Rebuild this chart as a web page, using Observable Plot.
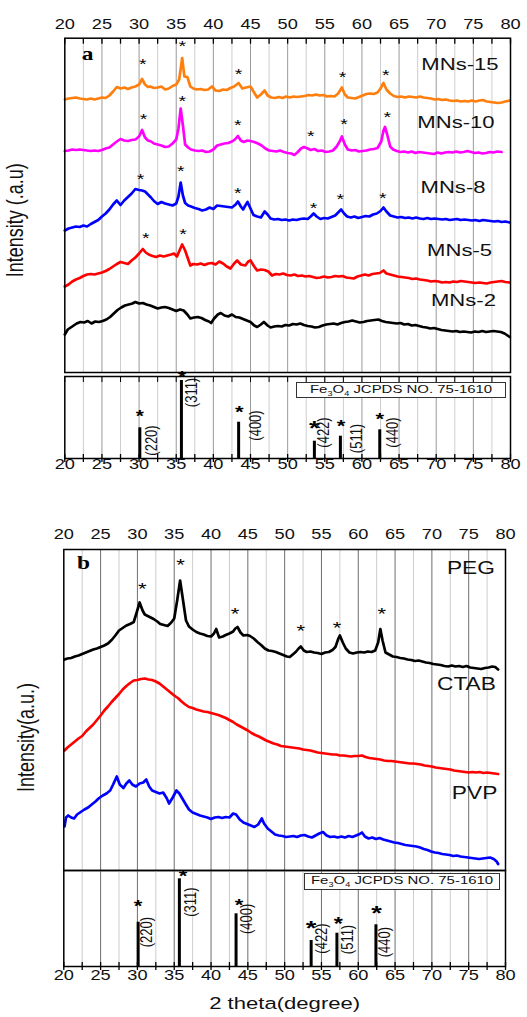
<!DOCTYPE html>
<html><head><meta charset="utf-8">
<script src="https://cdn.jsdelivr.net/npm/d3@7"></script>
<script src="https://cdn.jsdelivr.net/npm/@observablehq/plot@0.6"></script>
<style>
body{margin:0;background:#fff;}
#fig{position:relative;width:527px;height:1017px;overflow:hidden;font-family:"Liberation Sans",Arial,sans-serif;background:#fff;}
#fig svg{position:absolute;left:0;overflow:visible;}
.legend{position:absolute;box-sizing:border-box;border:1px solid #333;background:#fff;font-size:11.5px;display:flex;align-items:center;justify-content:center;white-space:nowrap;color:#111;}
.legend span{display:inline-block;transform:scaleX(1.3);}
.legend sub{font-size:7px;}
</style></head><body><div id="fig"></div>
<script>
// ---------- axis ticks ----------
const majorTicks = [20, 25, 30, 35, 40, 45, 50, 55, 60, 65, 70, 75, 80];
const minorTicks = [22.5, 27.5, 32.5, 37.5, 42.5, 47.5, 52.5, 57.5, 62.5, 67.5, 72.5, 77.5];
const allTicks = [20, 22.5, 25, 27.5, 30, 32.5, 35, 37.5, 40, 42.5, 45, 47.5, 50, 52.5, 55, 57.5, 60, 62.5, 65, 67.5, 70, 72.5, 75, 77.5, 80];

// ---------- panel a: [2theta, intensity (a.u., stacked)] ----------
const mns15 = [[20,276],[20.5,277],[21,277.5],[21.5,278],[22,277],[22.5,276.5],[23,276],[23.5,277],[24,276],[24.5,277],[25,278],[25.5,277.5],[26,280],[26.5,284],[27,288.5],[27.5,287],[28,288],[28.5,286.5],[29,288],[29.5,289],[30,291],[30.4,296.5],[30.8,291],[31.2,288.5],[31.5,289],[32,287.5],[32.5,288],[33,289],[33.5,286],[34,287],[34.5,289.5],[35,291],[35.4,296],[35.8,317.5],[36.1,299],[36.5,298.5],[36.9,289],[37.3,287],[37.8,286],[38.3,286.5],[38.8,285.5],[39.3,286],[39.8,289],[40.3,285],[40.8,284.5],[41.3,286],[41.8,285.5],[42.3,287.5],[42.8,289],[43.4,292.5],[43.9,287],[44.4,288],[45,289],[45.4,284],[45.9,278],[46.4,281],[46.9,285],[47.3,280],[47.8,278],[48.3,277.5],[48.8,278.5],[49.3,277.5],[49.8,279],[50.3,278],[50.8,279],[51.3,278.5],[51.8,279],[52.3,279.5],[52.8,280.5],[53.3,280],[53.8,281],[54.3,280],[54.8,280.5],[55.3,279],[55.8,279.5],[56.3,279],[56.8,282],[57.3,288],[57.7,281],[58.1,278],[58.6,277.5],[59.1,277],[59.6,278.5],[60.1,280],[60.6,281.5],[61.1,282],[61.6,281.5],[62.1,283],[62.5,287],[62.9,292.5],[63.3,286],[63.8,282],[64.3,279.5],[64.8,278.5],[65.3,279],[65.8,278],[66.3,279],[66.8,278.5],[67.3,278],[67.8,279],[68.3,278],[68.8,277.5],[69.3,277],[69.8,276],[70.3,276.5],[70.8,275.5],[71.3,276],[71.8,275],[72.3,274.5],[72.8,275],[73.3,274],[73.8,274.5],[74.3,274],[74.8,275],[75.3,274],[75.8,275],[76.3,275.5],[76.8,274],[77.3,273.5],[77.8,273],[78.3,272.5],[78.8,273],[79.3,274],[79.9,275]];
const mns10 = [[20,224.5],[20.5,225],[21,226],[21.5,225.5],[22,226],[22.5,225.5],[23,225],[23.5,224.5],[24,225],[24.5,224.5],[25,225.5],[25.5,227],[26,228],[26.5,231],[27,234],[27.5,236.5],[28,235],[28.5,234.5],[29,235.5],[29.5,236],[30,239],[30.4,245.5],[30.8,238],[31.2,235],[31.6,234],[32,232],[32.5,231],[33,230],[33.5,228.5],[34,229],[34.5,232],[35,236],[35.3,247],[35.6,267],[35.9,250],[36.2,231],[36.6,228],[37,226],[37.5,225],[38,224.5],[38.5,225],[39,223.5],[39.5,224],[40,226],[40.5,230],[41,231],[41.5,232],[42,232.5],[42.5,234],[42.9,236],[43.3,239.5],[43.7,235],[44.1,233.5],[44.6,235],[45,234.5],[45.5,233.5],[46,232],[46.5,230],[47,227],[47.5,225],[48,224.5],[48.5,224],[49,225],[49.5,223.5],[50,222.5],[50.5,222],[50.9,220.5],[51.3,223],[51.8,227],[52.2,228.5],[52.7,227],[53.1,225.5],[53.6,226.5],[54.1,224.5],[54.6,225],[55.1,223.5],[55.6,224],[56.1,225],[56.6,229],[57,234],[57.3,239],[57.7,231],[58.1,226],[58.6,225],[59.1,225.5],[59.6,224],[60.1,224.5],[60.6,225],[61.1,226],[61.6,226.5],[62.1,227.5],[62.6,234],[62.9,245],[63.1,248.5],[63.4,241],[63.8,229],[64.2,226],[64.7,224.5],[65.2,223.5],[65.7,224],[66.2,223],[66.7,224],[67.2,222.5],[67.7,223.5],[68.2,223],[68.7,222.5],[69.2,222],[69.7,221.5],[70.2,223],[70.7,222],[71.2,223],[71.7,223.5],[72.2,223],[72.7,224],[73.2,223],[73.7,223.5],[74.2,224.5],[74.7,223.5],[75.2,222.5],[75.7,223],[76.2,222],[76.7,222.5],[77.2,223.5],[77.7,223],[78.2,224],[78.8,223.5]];
const mns8 = [[20,145],[20.5,147],[21,148],[21.5,149],[22,148.5],[22.5,150],[23,149],[23.5,151.5],[24,153.5],[24.5,155.5],[25,159],[25.5,162],[26,166],[26.5,171],[27,175],[27.5,170.5],[28,175],[28.5,178.5],[29,182],[29.5,186.5],[30,185.5],[30.4,185],[30.8,184],[31.2,181],[31.6,178],[32,174.5],[32.5,171.5],[33,173.5],[33.5,172],[34,171],[34.5,170],[35,172],[35.3,179],[35.6,193],[35.9,180],[36.2,172.5],[36.6,170],[37,169],[37.5,167.5],[38,166.5],[38.5,165],[39,166],[39.5,168],[40,166.5],[40.5,170],[41,169.5],[41.5,169],[42,168.5],[42.5,168],[43,171],[43.3,174],[43.7,169],[44,166],[44.3,170],[44.6,173.5],[45,167],[45.4,160.5],[45.9,159],[46.4,158],[46.9,164],[47.3,161],[47.7,157],[48.2,156],[48.7,156.5],[49.2,155.5],[49.7,156],[50.2,155],[50.7,156],[51.2,155.5],[51.7,156.5],[52.2,157],[52.7,156.5],[53.1,159],[53.5,162],[53.9,159],[54.4,156.5],[54.9,157.5],[55.4,157],[55.9,158.5],[56.4,160],[56.8,163],[57.2,166],[57.6,162],[58,159],[58.5,158],[59,159],[59.5,157.5],[60,158.5],[60.5,159.5],[61,159],[61.5,161],[62,162],[62.5,164.5],[62.9,168],[63.3,164],[63.8,160],[64.3,159],[64.8,158],[65.3,158.5],[65.8,157.5],[66.3,158],[66.8,157],[67.3,158],[67.8,157],[68.3,156.5],[68.8,157.5],[69.3,156.5],[69.8,157],[70.3,156.5],[70.8,156],[71.3,156.5],[71.8,155.5],[72.3,156],[72.8,156.5],[73.3,155.5],[73.8,156],[74.3,155.5],[74.8,155],[75.3,155.5],[75.8,154.5],[76.3,155.5],[76.8,155],[77.3,154.5],[77.8,154],[78.3,154.5],[78.8,153.5],[79.3,154],[79.9,153]];
const mns5 = [[20,89],[20.5,91],[21,94],[21.5,96],[22,97.5],[22.5,99.5],[23,101],[23.5,101.5],[24,101],[24.5,102],[25,103],[25.5,104.5],[26,106.5],[26.5,109],[27,111.5],[27.5,113.5],[28,112.5],[28.5,111.5],[29,115],[29.5,118],[30,122],[30.5,126.5],[30.9,123],[31.3,121],[31.8,119.5],[32.3,118.5],[32.8,120],[33.3,119],[33.8,120],[34.3,121],[34.7,122],[35.1,119],[35.5,126],[35.8,131],[36.2,125],[36.5,118.5],[36.9,110],[37.3,111.5],[37.8,111],[38.3,112],[38.8,110.5],[39.3,112],[39.8,112.5],[40.3,111],[40.8,114],[41.3,112],[41.8,109],[42.3,107],[42.8,112],[43.2,115],[43.7,111],[44.3,110],[44.7,114],[45,115],[45.5,109],[45.9,105],[46.4,106],[46.9,105.5],[47.4,104],[47.9,100],[48.4,101.5],[48.9,101],[49.4,102],[49.9,100.5],[50.4,100],[50.9,101],[51.4,99.5],[51.9,100],[52.4,99],[52.9,99.5],[53.4,98.5],[53.9,97.5],[54.4,98],[54.9,99],[55.4,98],[55.9,98.5],[56.4,99.5],[56.9,99],[57.4,99.5],[57.9,98],[58.4,97.5],[58.9,97],[59.4,99],[59.9,100],[60.4,101],[60.9,100],[61.4,101.5],[61.9,102],[62.4,102.5],[62.9,105],[63.3,102],[63.8,101],[64.3,100],[64.8,99],[65.3,98.5],[65.8,98],[66.3,97.5],[66.8,96.5],[67.3,97],[67.8,96],[68.3,95.5],[68.8,95],[69.3,94],[69.8,94.5],[70.3,94],[70.8,93],[71.3,93.5],[71.8,93],[72.3,94],[72.8,93.5],[73.3,94.5],[73.8,94],[74.3,93.5],[74.8,93],[75.3,92.5],[75.8,93],[76.3,92.5],[76.8,92],[77.3,93],[77.8,93.5],[78.3,94],[78.8,94.5],[79.3,93.5],[79.9,93]];
const mns2 = [[20,41],[20.4,46],[20.8,48],[21.2,50],[21.6,52],[22.1,53.5],[22.6,53],[23.1,54.5],[23.6,52],[24.1,54],[24.6,53.5],[25.1,54.5],[25.6,56],[26.1,58.5],[26.6,62],[27.1,65.5],[27.6,68],[28.1,70],[28.6,71],[29.1,72],[29.5,73.5],[30,72],[30.5,72.5],[31,71],[31.5,70],[32,68.5],[32.5,67],[33,68],[33.5,68.5],[34,67.5],[34.5,66],[35,64.5],[35.5,66],[36,65],[36.5,61],[36.9,57],[37.4,58],[37.9,58.5],[38.4,57.5],[38.9,55.5],[39.4,54],[39.7,52.5],[40.1,57],[40.6,61],[41,62.5],[41.5,60],[42,59],[42.5,61],[43,58.5],[43.5,58],[44,56.5],[44.5,55],[45,53.5],[45.5,50],[45.9,48.5],[46.4,51],[46.8,53.5],[47.3,50],[47.7,48],[48.2,49],[48.7,49.5],[49.2,49],[49.7,50.5],[50.2,50],[50.7,51.5],[51.2,51],[51.7,52],[52.2,50.5],[52.7,49.5],[53.2,49],[53.7,48],[54.2,48.5],[54.7,50],[55.2,51],[55.7,51.5],[56.2,52],[56.7,51],[57.2,52.5],[57.7,53.5],[58.2,54],[58.7,55],[59.2,54],[59.7,53],[60.2,53.5],[60.7,54.5],[61.2,55],[61.7,55.5],[62.2,56],[62.7,54.5],[63.2,53.5],[63.7,53],[64.2,52.5],[64.7,52],[65.2,52.5],[65.7,51],[66.2,51.5],[66.7,50],[67.2,50.5],[67.7,49.5],[68.2,48.5],[68.7,48],[69.2,47],[69.7,47.5],[70.2,46.5],[70.7,45.5],[71.2,45],[71.7,44.5],[72.2,44],[72.7,44.5],[73.2,43.5],[73.7,44],[74.2,43.5],[74.7,43],[75.2,44],[75.7,43.5],[76.2,44.5],[76.7,43.5],[77.2,44],[77.7,44.5],[78.2,44],[78.7,43.5],[79.2,42],[79.6,40],[79.9,38.5]];
const seriesA = [
  {name: "MNs-15", color: "#ff7f0e", data: mns15},
  {name: "MNs-10", color: "#ff00ff", data: mns10},
  {name: "MNs-8", color: "#0000ff", data: mns8},
  {name: "MNs-5", color: "#ff0000", data: mns5},
  {name: "MNs-2", color: "#000000", data: mns2}
];
const labelsA = [["MNs-15", 73.2, 305.3], ["MNs-10", 72.66, 247.5], ["MNs-8", 72.26, 182.5], ["MNs-5", 73.14, 120], ["MNs-2", 73.67, 69.7]];
const starsA = [[30.5,310],[35.8,328],[43.4,300],[57.4,297],[63.2,299],
  [30.6,255],[35.8,273.3],[43.3,249],[53.1,238.3],[57.6,250],[63.4,257],
  [30.2,195],[35.6,203.3],[43.3,181.7],[53.5,166.7],[57.1,175.7],[62.8,176.7],
  [30.9,136.7],[35.9,140]];

// ---------- panel b ----------
const peg = [[20.1,211],[20.5,212],[21,212.5],[21.5,214],[22,215],[22.5,216.5],[23,218],[23.5,219.5],[24,221],[24.5,222],[25,223.5],[25.5,225],[26,227],[26.5,230.5],[27,235],[27.5,240],[28,242.5],[28.5,245],[29,246.5],[29.5,248.5],[29.9,258],[30.3,268],[30.7,260],[31,256],[31.4,254.5],[31.8,253],[32.2,251.5],[32.7,249],[33.1,246.5],[33.6,245.5],[34.1,244.5],[34.6,248],[35,252],[35.4,270],[35.8,290],[36.2,270],[36.6,250],[37,244],[37.5,241],[38,238.5],[38.5,237],[39,236],[39.5,234.5],[40,234],[40.4,237],[40.7,241.5],[41.1,233],[41.6,234],[42,235.5],[42.5,237],[43,239],[43.3,242],[43.6,243.5],[44,238],[44.4,235],[44.9,235.5],[45.3,234.5],[45.8,232],[46.3,228.5],[46.8,225.5],[47.3,222],[47.8,220],[48.3,219.5],[48.8,218.5],[49.3,217],[49.8,215.5],[50.3,214],[50.7,213.5],[51.1,216],[51.5,218.5],[51.9,222],[52.2,224],[52.6,220],[53,218.5],[53.5,219],[54,218],[54.5,217.5],[55,216.5],[55.5,218],[56,218.5],[56.5,220.5],[56.9,223.5],[57.3,232],[57.5,235],[57.9,228],[58.3,222],[58.8,218],[59.3,217],[59.8,218],[60.3,218.5],[60.8,218],[61.3,219],[61.8,218.5],[62.3,220],[62.7,228],[63,241.5],[63.3,230],[63.7,218],[64.2,216],[64.7,214],[65.2,213.5],[65.7,212.5],[66.2,212],[66.7,211],[67.2,210.5],[67.7,209.5],[68.2,210],[68.7,209],[69.2,208],[69.7,207.5],[70.2,206.5],[70.7,206],[71.2,205.5],[71.7,204.5],[72.2,204],[72.7,205],[73.2,204],[73.7,204.5],[74.2,203.5],[74.7,204.5],[75.2,203],[75.7,202.5],[76.2,202],[76.7,201.5],[77.2,202.5],[77.7,203],[78.2,204],[78.6,203.5],[79,201]];
const ctab = [[20.1,120],[20.5,123],[21,126],[21.5,129],[22,132],[22.5,134.5],[23,139],[23.5,142.5],[24,146],[24.5,150.5],[25,155],[25.5,160],[26,164],[26.5,168.5],[27,172.5],[27.5,176.5],[28,181],[28.5,184.5],[29,187.5],[29.5,190],[30,190.5],[30.5,191.5],[31,192],[31.5,191],[32,190.5],[32.5,189],[33,187],[33.5,184],[34,181],[34.5,178],[35,175],[35.5,172.5],[36,169],[36.5,166],[37,163.5],[37.5,162.5],[38,161],[38.5,160],[39,159],[39.5,158.5],[40,157.5],[40.5,156.5],[41,155.5],[41.5,154],[42,152.5],[42.5,150.5],[43,148.5],[43.5,146],[44,144],[44.5,142],[45,140],[45.5,137.5],[46,135.5],[46.5,134],[47,132],[47.5,130],[48,128.5],[48.5,127],[49,126],[49.5,124.5],[50,124],[50.5,123.5],[51,123],[51.5,122.5],[52,122],[52.5,121],[53,120.5],[53.5,120],[54,119],[54.5,118],[55,117.5],[55.5,117],[56,116.5],[56.5,116],[57,116],[57.5,115],[58,115],[58.5,114.5],[59,114],[59.5,114.5],[60,114.5],[60.5,115],[61,113.5],[61.5,112.5],[62,112],[62.5,111.5],[63,111],[63.5,110],[64,109.5],[64.5,109.5],[65,109],[65.5,108.5],[66,108],[66.5,107.5],[67,107],[67.5,107],[68,106.5],[68.5,106],[69,105],[69.5,104.5],[70,104],[70.5,103],[71,102.5],[71.5,102],[72,101.5],[72.5,101],[73,100],[73.5,99.5],[74,99],[74.5,98.5],[75,98],[75.5,98.5],[76,98],[76.5,98.5],[77,97.5],[77.5,98],[78,97.5],[78.5,97],[79,96.5]];
const pvp = [[20.1,44],[20.3,53],[20.6,55],[21,53],[21.4,52],[21.8,56],[22.3,58.5],[22.8,61],[23.3,63],[23.8,66],[24.3,69],[24.8,72.5],[25.3,75],[25.8,77],[26.3,80],[26.7,86],[27.2,94],[27.6,86],[28.1,82.5],[28.5,87],[28.9,90],[29.3,86],[29.8,84],[30.3,87],[30.8,88],[31.2,91],[31.6,84],[32,80],[32.5,78.5],[33,77],[33.5,78],[34,72],[34.3,67],[34.8,73],[35.3,80],[35.7,77],[36.1,72],[36.5,67],[37,61],[37.5,58],[38,56.5],[38.5,55],[39,54],[39.5,53],[40,51.5],[40.5,53],[41,53.5],[41.5,52.5],[42,53.5],[42.5,53],[43,57],[43.4,56],[43.9,51],[44.4,48],[44.9,46.5],[45.4,45],[45.9,43.5],[46.4,46],[46.9,52],[47.2,47],[47.7,42],[48.2,39],[48.7,36],[49.2,35],[49.7,34.5],[50.2,33.5],[50.7,34],[51.2,34.5],[51.7,33.5],[52.2,35],[52.7,35.5],[53.2,34],[53.7,33],[54.2,35],[54.7,37],[55.2,38.5],[55.7,35],[56.2,33.5],[56.7,34],[57.2,33],[57.7,34],[58.2,33],[58.7,34.5],[59.2,33.5],[59.7,35],[60.2,36.5],[60.5,38],[60.9,34],[61.4,32],[61.9,33],[62.4,31.5],[62.9,32.5],[63.4,31],[63.9,30],[64.4,29],[64.9,28],[65.4,27.5],[65.9,26.5],[66.4,25.5],[66.9,25],[67.4,24.5],[67.9,24],[68.4,23],[68.9,21.5],[69.4,20.5],[69.9,19],[70.4,18],[70.9,17.5],[71.4,16.5],[71.9,16],[72.4,15.5],[72.9,14.5],[73.4,15],[73.9,14],[74.4,13.5],[74.9,13],[75.4,12.5],[75.9,12],[76.4,11.5],[76.9,12],[77.4,12.5],[77.9,13],[78.4,11.5],[78.8,9],[79,6.5]];
const seriesB = [
  {name: "PEG", color: "#000000", data: peg},
  {name: "CTAB", color: "#ff0000", data: ctab},
  {name: "PVP", color: "#0000ff", data: pvp}
];
const labelsB = [["PEG", 75.3, 297], ["CTAB", 74.7, 181], ["PVP", 75.8, 72]];
const starsB = [[30.66,279.3],[35.87,303.3],[43.27,255],[52.2,237.3],[57.1,240.7],[63.2,255]];

// ---------- Fe3O4 reference (JCPDS 75-1610) ----------
const refTheta = [30.1, 35.7, 43.4, 53.6, 57.1, 62.4];
const refHkl = ["(220)", "(311)", "(400)", "(422)", "(511)", "(440)"];
const refHeightA = [30.7, 78, 36.3, 17.3, 22.3, 28.7];
const refHeightB = [44.3, 87.7, 52.7, 26, 33.3, 41.7];
const hklPosA = [[32.4,18],[37.8,66],[46.4,33],[55.5,26],[60.0,20],[64.9,26]];
const hklPosB = [[32.0,34.3],[37.9,64.3],[45.6,47.7],[55.8,28],[59.3,27],[64.3,24.3]];
const refStarsA = [[30.1,41.3,16],[35.8,80,16],[43.5,45.3,17],[53.6,28,21],[57.2,31,17],[62.4,38,17]];
const refStarsB = [[30.1,59.3,17],[36.2,89.3,17],[43.8,60,17],[53.6,36,21],[57.3,41,18],[62.5,51,21]];

// ---------- helpers ----------
const FONT = "Liberation Sans, Arial, sans-serif";
const STRETCH = 1.3;
function stretchText(svg) {
  svg.querySelectorAll("text").forEach(t => {
    let tr = t.getAttribute("transform") || "";
    const x = t.getAttribute("x"), y = t.getAttribute("y");
    if (x != null || y != null) {
      tr = `translate(${+x || 0},${+y || 0}) ` + tr;
      t.removeAttribute("x"); t.removeAttribute("y");
    }
    tr += /rotate/.test(tr) ? ` scale(1,${STRETCH})` : ` scale(${STRETCH},1)`;
    t.setAttribute("transform", tr);
  });
}
function grids(minorColor, majorColor) {
  return [
    Plot.gridX(minorTicks, {stroke: minorColor, strokeOpacity: 1, strokeWidth: 1}),
    Plot.gridX(majorTicks.slice(1, -1), {stroke: majorColor, strokeOpacity: 1, strokeWidth: 1})
  ];
}
function starMarks(data, fs) {
  return Plot.text(data, {x: d => d[0], y: d => d[1], text: () => "*", fontSize: fs, lineAnchor: "middle", dy: 0.25 * fs, fill: "#000"});
}
function refPlot(heights, hklPos, refStars, opts) {
  return Plot.plot({
    width: 527, height: opts.height, marginTop: 0, marginBottom: opts.marginBottom,
    marginLeft: opts.ml, marginRight: opts.mr,
    x: {domain: [20, 80], axis: null},
    y: {domain: [0, opts.ymax], axis: null},
    style: {fontFamily: FONT, overflow: "visible", background: "transparent"},
    marks: [
      ...grids(opts.minor, opts.major),
      Plot.ruleX(refTheta, {x: d => d, y1: 0, y2: (d, i) => heights[i], strokeWidth: 3, stroke: "#000"}),
      Plot.text(refStars, {x: d => d[0], y: d => d[1], text: () => "*", fontSize: d => d[2], fontWeight: "bold", lineAnchor: "middle", dy: 4.5, fill: "#000"}),
      Plot.text(hklPos, {x: d => d[0], y: d => d[1], text: (d, i) => refHkl[i], rotate: -90, textAnchor: "middle", fontSize: 13, fill: "#111"}),
      Plot.axisX({anchor: "bottom", ticks: allTicks, tickSize: 4, text: null, strokeWidth: 1.3}),
      Plot.axisX({anchor: "bottom", ticks: allTicks, tickSize: -4, text: null, strokeWidth: 1.3}),
      opts.topTicks ? Plot.axisX({anchor: "top", ticks: allTicks, tickSize: -5, text: null}) : null,
      Plot.axisX({anchor: "bottom", ticks: majorTicks, tickSize: 0, tickPadding: opts.pad, fontSize: 14, fill: "#111", tickFormat: d => d}),
      opts.xlabel ? Plot.text([opts.xlabel], {frameAnchor: "bottom", textAnchor: "middle", dy: 42, lineAnchor: "middle", fontSize: 17, fill: "#111"}) : null,
      Plot.frame({stroke: "#000", strokeWidth: 1.5})
    ]
  });
}

const fig = document.getElementById("fig");
function place(svg, top) { svg.style.top = top + "px"; stretchText(svg); fig.appendChild(svg); }

// ---------- panel a main ----------
const aMain = Plot.plot({
  width: 527, height: 372, marginTop: 37.7, marginBottom: 0, marginLeft: 64.3, marginRight: 17,
  x: {domain: [20, 80], axis: null},
  y: {domain: [3, 337.3], axis: null},
  style: {fontFamily: FONT, overflow: "visible", background: "transparent"},
  marks: [
    ...grids("#cdcdcd", "#9a9a9a"),
    Plot.axisX({anchor: "top", ticks: majorTicks, tickSize: 0, tickPadding: 9.4, fontSize: 14, fill: "#111", tickFormat: d => d}),
    Plot.axisX({anchor: "top", ticks: allTicks, tickSize: -5, text: null, strokeWidth: 1.3}),
    ...seriesA.map(s => Plot.line(s.data, {x: d => d[0], y: d => d[1], stroke: s.color, strokeWidth: 2.7})),
    starMarks(starsA, 15),
    Plot.text(labelsA, {x: d => d[1], y: d => d[2], text: d => d[0], fontSize: 17, lineAnchor: "middle", fill: "#111"}),
    Plot.text(["a"], {x: 23.06, y: 316, fontSize: 18, fontWeight: "bold", fontFamily: "Liberation Serif, serif", lineAnchor: "middle"}),
    Plot.text(["Intensity (.a.u)"], {frameAnchor: "left", textAnchor: "middle", lineAnchor: "middle", rotate: -90, dx: -42, dy: 15, fontSize: 18, fill: "#111"}),
    Plot.frame({stroke: "#000", strokeWidth: 1.5})
  ]
});
place(aMain, 0);

const aRef = refPlot(refHeightA, hklPosA, refStarsA, {height: 110, marginBottom: 28, ml: 64.3, mr: 17, ymax: 82, minor: "#cdcdcd", major: "#9a9a9a", pad: 10.3, topTicks: true});
place(aRef, 376);

// ---------- panel b main ----------
const bMain = Plot.plot({
  width: 527, height: 370, marginTop: 49, marginBottom: 0, marginLeft: 63.3, marginRight: 22,
  x: {domain: [20, 80], axis: null},
  y: {domain: [0, 321], axis: null},
  style: {fontFamily: FONT, overflow: "visible", background: "transparent"},
  marks: [
    ...grids("#cdcdcd", "#6e6e6e"),
    Plot.axisX({anchor: "top", ticks: majorTicks, tickSize: 0, tickPadding: 11, fontSize: 14, fill: "#111", tickFormat: d => d}),
    ...seriesB.map(s => Plot.line(s.data, {x: d => d[0], y: d => d[1], stroke: s.color, strokeWidth: 2.7})),
    starMarks(starsB, 17),
    Plot.text(labelsB, {x: d => d[1], y: d => d[2], text: d => d[0], fontSize: 17.5, lineAnchor: "middle", fill: "#111"}),
    Plot.text(["b"], {x: 22.68, y: 302, fontSize: 18, fontWeight: "bold", fontFamily: "Liberation Serif, serif", lineAnchor: "middle"}),
    Plot.text(["Intensity(a.u.)"], {frameAnchor: "left", textAnchor: "middle", lineAnchor: "middle", rotate: -90, dx: -30, dy: 27.5, fontSize: 18, fill: "#111"}),
    Plot.frame({stroke: "#000", strokeWidth: 1.5})
  ]
});
place(bMain, 500);

const bRef = refPlot(refHeightB, hklPosB, refStarsB, {height: 147, marginBottom: 51, ml: 63.3, mr: 22, ymax: 96, minor: "#cdcdcd", major: "#6e6e6e", pad: 13, topTicks: false, xlabel: "2 theta(degree)"});
place(bRef, 870);

// ---------- reference legends ----------
function legend(left, top, w, h) {
  const d = document.createElement("div");
  d.className = "legend";
  Object.assign(d.style, {left: left + "px", top: top + "px", width: w + "px", height: h + "px"});
  d.innerHTML = "<span>Fe<sub>3</sub>O<sub>4</sub> JCPDS NO. 75-1610</span>";
  fig.appendChild(d);
}
legend(296, 382, 210, 15.6);
legend(304, 872.7, 196, 17.3);
</script></body></html>
